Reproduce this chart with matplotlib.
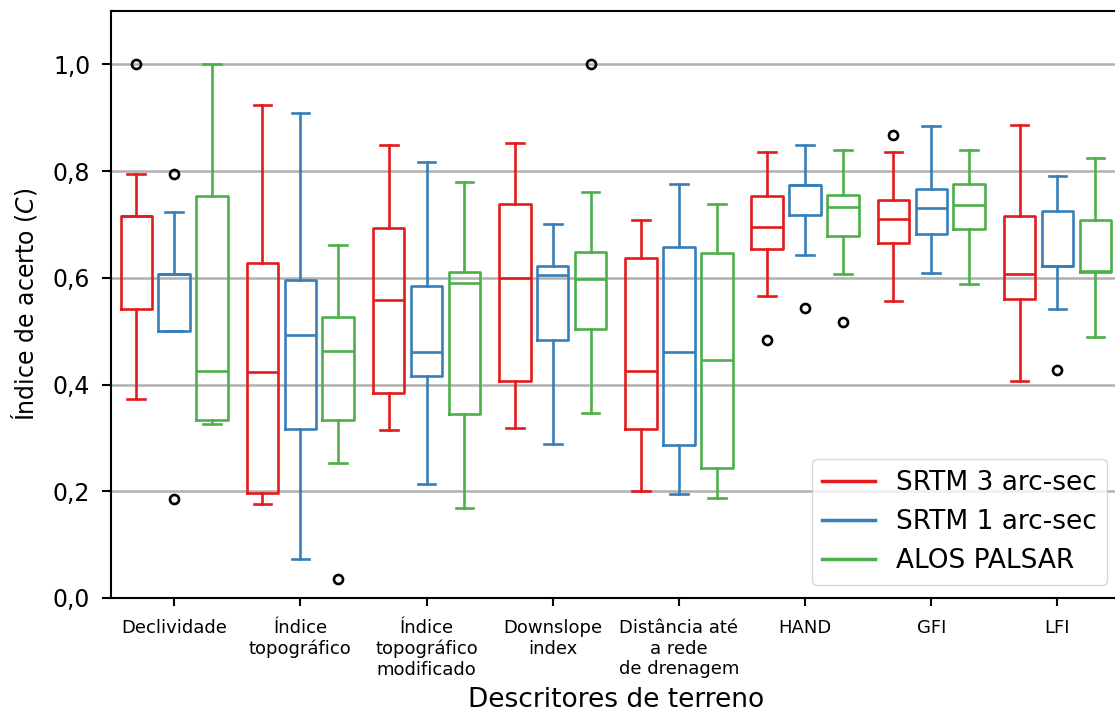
##################################################
# Boxplots: indice de acerto por descritor de terreno
##################################################
import numpy as np
import matplotlib.pyplot as plt
from matplotlib.lines import Line2D
from matplotlib.ticker import FuncFormatter

##################################################
# Data
##################################################
categories = ['Declividade', 'Índice\ntopográfico', 'Índice\ntopográfico\nmodificado',
              'Downslope\nindex', 'Distância até\na rede\nde drenagem', 'HAND', 'GFI', 'LFI']
series = ['SRTM 3 arc-sec', 'SRTM 1 arc-sec', 'ALOS PALSAR']
colors = ['#e41a1c', '#377eb8', '#4daf4a']

# each row: whislo, q1, med, q3, whishi
srtm3 = [[0.373, 0.541, 0.715, 0.715, 0.795],
         [0.177, 0.197, 0.424, 0.628, 0.924],
         [0.315, 0.384, 0.559, 0.694, 0.848],
         [0.318, 0.406, 0.600, 0.738, 0.853],
         [0.200, 0.316, 0.425, 0.638, 0.708],
         [0.565, 0.654, 0.695, 0.753, 0.835],
         [0.556, 0.666, 0.711, 0.745, 0.835],
         [0.406, 0.560, 0.607, 0.716, 0.887]]
srtm1 = [[0.500, 0.500, 0.608, 0.608, 0.724],
         [0.074, 0.316, 0.492, 0.596, 0.908],
         [0.213, 0.416, 0.461, 0.584, 0.817],
         [0.289, 0.484, 0.605, 0.622, 0.700],
         [0.195, 0.286, 0.461, 0.658, 0.776],
         [0.642, 0.717, 0.773, 0.773, 0.849],
         [0.609, 0.682, 0.730, 0.767, 0.885],
         [0.541, 0.623, 0.623, 0.725, 0.790]]
alos = [[0.326, 0.333, 0.426, 0.753, 1.000],
        [0.253, 0.334, 0.462, 0.527, 0.662],
        [0.168, 0.344, 0.591, 0.611, 0.780],
        [0.347, 0.505, 0.597, 0.649, 0.760],
        [0.187, 0.243, 0.446, 0.647, 0.739],
        [0.608, 0.678, 0.733, 0.756, 0.840],
        [0.589, 0.692, 0.736, 0.775, 0.839],
        [0.490, 0.611, 0.613, 0.709, 0.824]]

# outliers per category
fliers3 = [[1.0], [], [], [], [], [0.483], [0.868], []]
fliers1 = [[0.794, 0.185], [], [], [], [], [0.544], [], [0.428]]
fliersA = [[], [0.035], [], [1.0], [], [0.517], [], []]

##################################################
# Plot
##################################################
plt.rcParams['font.family'] = 'DejaVu Sans'
fig = plt.figure(figsize=(11.15, 7.13), dpi=100)
ax = fig.add_axes([0.0996, 0.1613, 0.9054, 0.8233])

x = np.arange(1, len(categories) + 1)
offsets = [-0.3, 0.0, 0.3]

for data, fl, off, col in zip([srtm3, srtm1, alos], [fliers3, fliers1, fliersA], offsets, colors):
    stats = []
    for row, f in zip(data, fl):
        stats.append(dict(whislo=row[0], q1=row[1], med=row[2], q3=row[3],
                          whishi=row[4], fliers=f))
    lw = 1.9
    ax.bxp(stats, positions=x + off, widths=0.25, capwidths=0.14,
           manage_ticks=False, showfliers=True,
           boxprops=dict(color=col, linewidth=lw),
           whiskerprops=dict(color=col, linewidth=lw),
           capprops=dict(color=col, linewidth=lw),
           medianprops=dict(color=col, linewidth=lw),
           flierprops=dict(marker='o', markerfacecolor='none', markeredgecolor='black',
                           markersize=6.5, markeredgewidth=1.9))

ax.set_xlim(0.5, 8.5)
ax.set_ylim(0, 1.1)
ax.set_yticks([0, 0.2, 0.4, 0.6, 0.8, 1.0])
ax.yaxis.set_major_formatter(FuncFormatter(lambda v, p: ('%.1f' % v).replace('.', ',')))
ax.set_xticks(x)
ax.set_xticklabels(categories, fontsize=13)
ax.tick_params(axis='y', labelsize=17, pad=8.5, length=6.5, width=1.5)
ax.tick_params(axis='x', pad=9, length=6, width=1.5)
ax.yaxis.grid(True, color='#b0b0b0', linewidth=1.8)
ax.set_axisbelow(True)
for s in ax.spines.values():
    s.set_linewidth(1.5)

ax.set_xlabel('Descritores de terreno', fontsize=19, labelpad=6)
ax.set_ylabel('Índice de acerto ($\\mathit{C}$)', fontsize=17, labelpad=10)

handles = [Line2D([0], [0], color=c, linewidth=2.5) for c in colors]
ax.legend(handles, series, loc='lower right', fontsize=19)

plt.savefig('out.png', dpi=100)
